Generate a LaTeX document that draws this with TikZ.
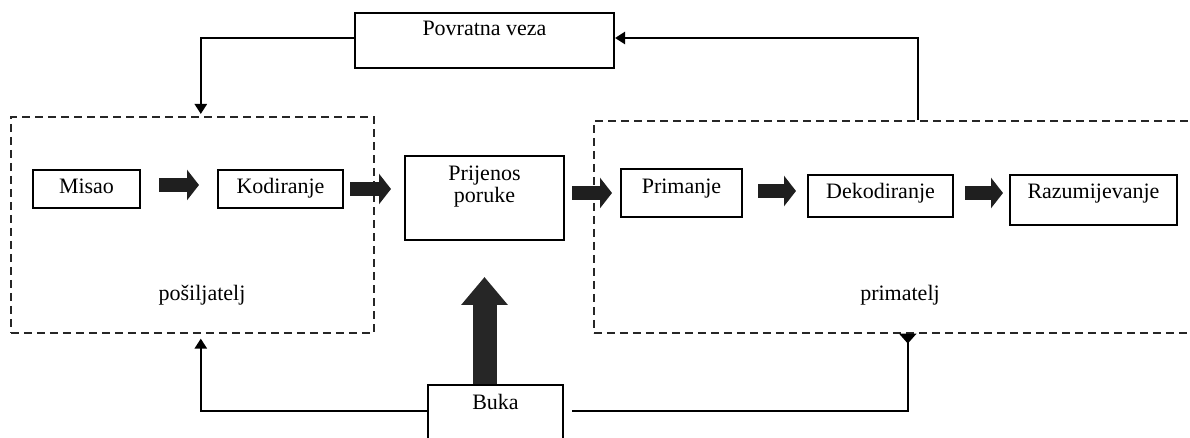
\documentclass[tikz,border=0pt]{standalone}
\usepackage{fontspec}
\setmainfont{Liberation Serif}
\usetikzlibrary{arrows.meta}
\begin{document}
\begin{tikzpicture}[x=0.5pt,y=-0.5pt,
  box/.style={draw=black,line width=1pt,inner xsep=0pt,inner ysep=0pt,anchor=north west,font=\fontsize{11}{11}\selectfont},
  grp/.style={draw=black!85,line width=0.8pt,dash pattern=on 4pt off 2.5pt,anchor=north west,inner sep=0pt},
  blk/.style={line width=7pt,draw=black!88,-{Triangle[width=15pt,length=6pt]}},
  bigblk/.style={line width=12pt,draw=black!85,-{Triangle[width=22.5pt,length=14pt]}},
  fb/.style={line width=1.2pt,-{Triangle[width=6pt,length=5pt]}},
  fbr/.style={line width=1.2pt,-{Triangle[reversed,width=8.5pt,length=5pt]}},
  lbl/.style={font=\fontsize{11}{11}\selectfont,inner sep=0pt}
]
\useasboundingbox (0,0) rectangle (1190,438);
% group boxes
\node[grp,minimum width=181.5pt,minimum height=108pt] (sender) at (10,116) {};
\node[grp,minimum width=303.5pt,minimum height=106pt] (receiver) at (593,120) {};
% boxes
\node[box,minimum width=129.5pt,text height=11.5pt,text depth=16pt] (pov) at (354,12) {Povratna veza};
\node[box,minimum width=53.5pt,text height=12pt,text depth=7pt] (misao) at (32,169) {Misao};
\node[box,minimum width=62.5pt,text height=12pt,text depth=7pt] (kod) at (217,169) {Kodiranje};
\node[box,text width=79.5pt,align=center,text height=12.5pt,text depth=29.5pt] (prij) at (404,155) {Prijenos\\poruke};
\node[box,minimum width=60.5pt,text height=12.5pt,text depth=11.5pt] (prim) at (620,168) {Primanje};
\node[box,minimum width=72.5pt,text height=12pt,text depth=9pt] (dek) at (807,174) {Dekodiranje};
\node[box,minimum width=83.5pt,text height=12pt,text depth=13pt] (raz) at (1009,174) {Razumijevanje};
\node[box,minimum width=67.5pt,text height=12pt,text depth=19pt] (buka) at (427,384) {Buka};
% labels
\node[lbl] (slbl) at (202,295) {pošiljatelj};
\node[lbl] (rlbl) at (900,295) {primatelj};
% block arrows
\draw[blk] ([shift={(9pt,2pt)}]misao.east) -- ([shift={(-9pt,2pt)}]kod.west);
\draw[blk] ([xshift=3pt]kod.east) -- ([xshift=-6.5pt]kod.east -| prij.west);
\draw[blk] ([xshift=3.5pt]prim.west -| prij.east) -- ([xshift=-4pt]prim.west);
\draw[blk] ([shift={(7.5pt,1pt)}]prim.east) -- ([shift={(-5.5pt,1pt)}]prim.east -| dek.west);
\draw[blk] ([shift={(5.5pt,1.5pt)}]dek.east) -- ([shift={(-3pt,1.5pt)}]dek.east -| raz.west);
\draw[bigblk] (buka.north -| prij.south) -- ([yshift=-18pt]prij.south);
% feedback and noise lines
\draw[fb,shorten >=1pt] ([yshift=1.25pt]pov.west) -| ([xshift=4.25pt]sender.north);
\draw[fb] ([xshift=10.25pt]receiver.north) |- ([yshift=1.25pt]pov.east);
\draw[fb,shorten >=2.5pt] ([yshift=2.5pt]buka.west) -| ([xshift=4.25pt]sender.south);
\draw[fbr] ([shift={(4pt,2.5pt)}]buka.east) -| ([xshift=5.25pt]receiver.south);
\end{tikzpicture}
\end{document}
